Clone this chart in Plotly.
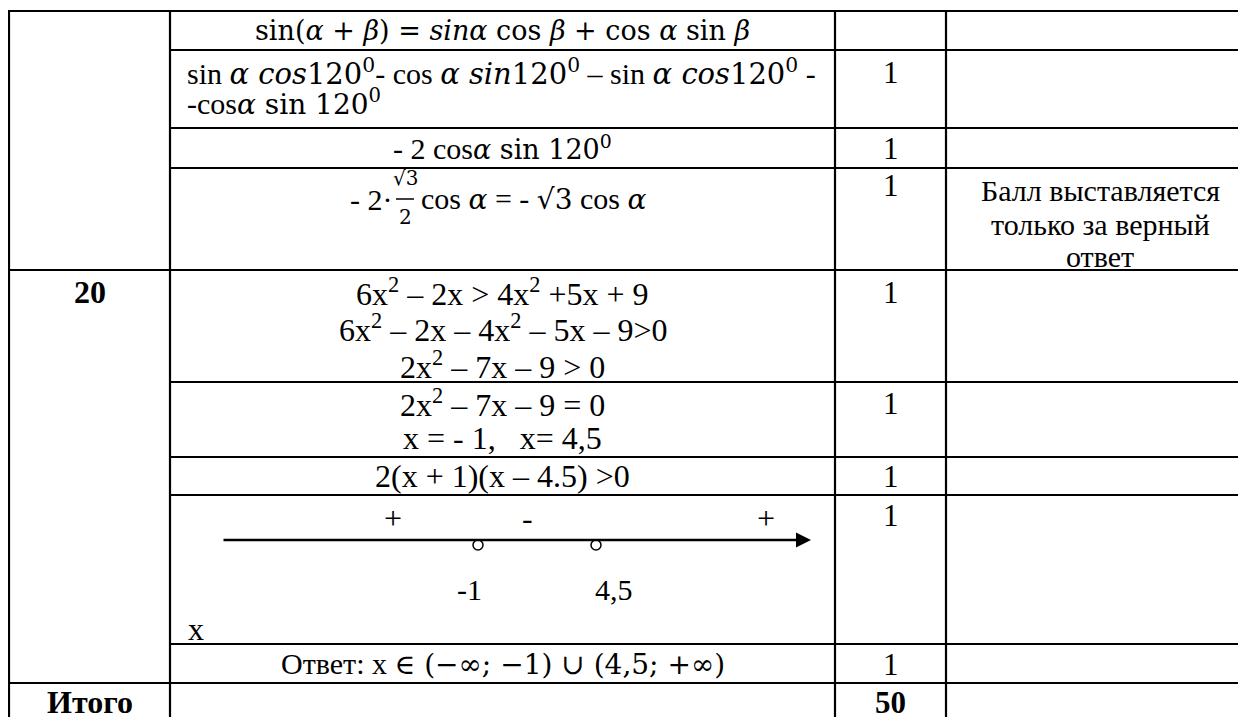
import plotly.graph_objects as go

W, H = 1246, 717
PAGE = 8  # отступ body у html-страницы
FONT = "Liberation Serif"
MATH = "DejaVu Serif"
FS = 30
FS_EQ = 32


def m(s, size=27):
    return '<span style="font-family:%s;font-size:%dpx">%s</span>' % (MATH, size, s)


# --- содержимое таблицы ---
TASK_NUMBERS = ["20", "Итого"]
SCORES = ["1", "1", "1", "1", "1", "1", "1", "1", "50"]

STEP_SUM = m("sin(<i>α</i> + <i>β</i>) = <i>sinα</i> cos <i>β</i> + cos <i>α</i> sin <i>β</i>")
STEP_TRIG_LONG = [
    "sin " + m("<i>α cos</i>120<sup>0</sup>", 29) + "- cos " + m("<i>α sin</i>120<sup>0</sup>", 29)
    + " – sin " + m("<i>α cos</i>120<sup>0</sup>", 29) + " -",
    "-cos" + m("<i>α</i> sin 120<sup>0</sup>", 28),
]
STEP_DOUBLE = "- 2 cos" + m("<i>α</i> sin 120<sup>0</sup>")
STEP_FRACTION = ["- 2·", "√3", "2", "cos " + m("<i>α</i>", 28) + " = - " + m("√3", 28) + " cos " + m("<i>α</i>", 28)]
COMMENT = ["Балл выставляется", "только за верный", "ответ"]

STEPS_20 = [
    "6x<sup>2</sup> – 2x > 4x<sup>2</sup> +5x + 9",
    "6x<sup>2</sup> – 2x – 4x<sup>2</sup> – 5x – 9>0",
    "2x<sup>2</sup> – 7x – 9 > 0",
    "2x<sup>2</sup> – 7x – 9 = 0",
    "x = - 1,\u00a0\u00a0 x= 4,5",
    "2(x + 1)(x – 4.5) >0",
]
ANSWER = "Ответ: x " + m("∈ (−∞; −1) ∪ (4,5; +∞)", 28)
ROOTS = [-1, 4.5]
ROOT_LABELS = ["-1", "4,5"]
SIGNS = ["+", "-", "+"]

# --- геометрия (пиксели страницы) ---
COL_X = [9, 170, 835, 946]
FULL_ROWS = [11, 270, 683]
INNER_ROWS = [50, 128, 168, 382, 457, 495, 644]
MID1 = (COL_X[0] + COL_X[1]) / 2
MID2 = (COL_X[1] + COL_X[2]) / 2
MID3 = (COL_X[2] + COL_X[3]) / 2
MID4 = 1100

fig = go.Figure()

shapes = []
for y in FULL_ROWS:
    shapes.append(dict(type="line", x0=COL_X[0] - 1, x1=W + 5, y0=y, y1=y))
for y in INNER_ROWS:
    shapes.append(dict(type="line", x0=COL_X[1], x1=W + 5, y0=y, y1=y))
for x in COL_X:
    shapes.append(dict(type="line", x0=x, x1=x, y0=FULL_ROWS[0] - 1, y1=H + 5))
# дробная черта
shapes.append(dict(type="line", x0=396, x1=414, y0=199, y1=199, line=dict(width=1.5)))
for s in shapes:
    s.setdefault("line", dict(width=2.2))
    s["line"]["color"] = "black"
    s["xref"], s["yref"] = "x", "y"

ann = []


def txt(x, y, t, xa="center", size=FS, family=FONT):
    ann.append(dict(x=x, y=y, xref="x", yref="y", text=t, showarrow=False,
                    xanchor=xa, yanchor="middle",
                    font=dict(family=family, size=size, color="black")))


# столбец 1
txt(MID1, 292, "<b>%s</b>" % TASK_NUMBERS[0], size=FS_EQ)
txt(MID1, 702, "<b>%s</b>" % TASK_NUMBERS[1], size=FS_EQ)

# столбец 2 — тригонометрия
txt(MID2, 30, STEP_SUM)
txt(185, 72, STEP_TRIG_LONG[0], xa="left")
txt(185, 102, STEP_TRIG_LONG[1], xa="left")
txt(MID2, 147, STEP_DOUBLE)
txt(394, 199, STEP_FRACTION[0], xa="right")
txt(405, 178, STEP_FRACTION[1], size=20, family=MATH)
txt(405, 217, STEP_FRACTION[2], size=20, family=MATH)
txt(419, 199, STEP_FRACTION[3], xa="left")

# столбец 2 — задание 20
for t, y in zip(STEPS_20, [292, 328, 365, 403, 438, 476]):
    txt(MID2, y, t, size=FS_EQ)
txt(MID2, 664, ANSWER)

# числовая прямая
ann.append(dict(x=811, y=540, ax=222, ay=540, xref="x", yref="y", axref="x", ayref="y",
                text="", showarrow=True, arrowhead=2, arrowsize=1.2, arrowwidth=2.5,
                arrowcolor="black", standoff=0, startstandoff=0))
for t, x in zip(SIGNS, [393, 527, 766]):
    txt(x, 518, t, size=32)
txt(186, 629, "x", xa="left", size=FS_EQ)

# столбец 3
for s, y in zip(SCORES, [72, 148, 185, 292, 403, 476, 515, 664, 702]):
    txt(MID3, y, "<b>%s</b>" % s if s == "50" else s, size=31)

# столбец 4
for t, y in zip(COMMENT, [190, 224, 256]):
    txt(MID4, y, t)

# корни на отдельной оси, подогнанной под пиксели схемы
NL_PIX = (478, 596)
upp = (ROOTS[1] - ROOTS[0]) / (NL_PIX[1] - NL_PIX[0])
x2_range = [ROOTS[0] - (NL_PIX[0] - PAGE) * upp, ROOTS[0] + (W - NL_PIX[0]) * upp]

fig.add_trace(go.Scatter(x=ROOTS, y=[545] * len(ROOTS), xaxis="x2", yaxis="y",
                         mode="markers",
                         marker=dict(symbol="circle-open", size=10, color="black",
                                     line=dict(width=1.5)),
                         showlegend=False, hoverinfo="skip"))
for r, lab, sh in zip(ROOTS, ROOT_LABELS, [-9, 18]):
    ann.append(dict(x=r, y=589, xref="x2", yref="y", text=lab, showarrow=False,
                    xshift=sh, xanchor="center", yanchor="middle",
                    font=dict(family=FONT, size=FS, color="black")))

fig.update_layout(
    width=W - PAGE, height=H - PAGE, margin=dict(l=0, r=0, t=0, b=0),
    paper_bgcolor="white", plot_bgcolor="white",
    xaxis=dict(range=[PAGE, W], visible=False, fixedrange=True),
    xaxis2=dict(range=x2_range, visible=False, overlaying="x", fixedrange=True),
    yaxis=dict(range=[H, PAGE], visible=False, fixedrange=True),
    shapes=shapes, annotations=ann, showlegend=False,
)

fig.write_html("out.html", config={"displayModeBar": False})
